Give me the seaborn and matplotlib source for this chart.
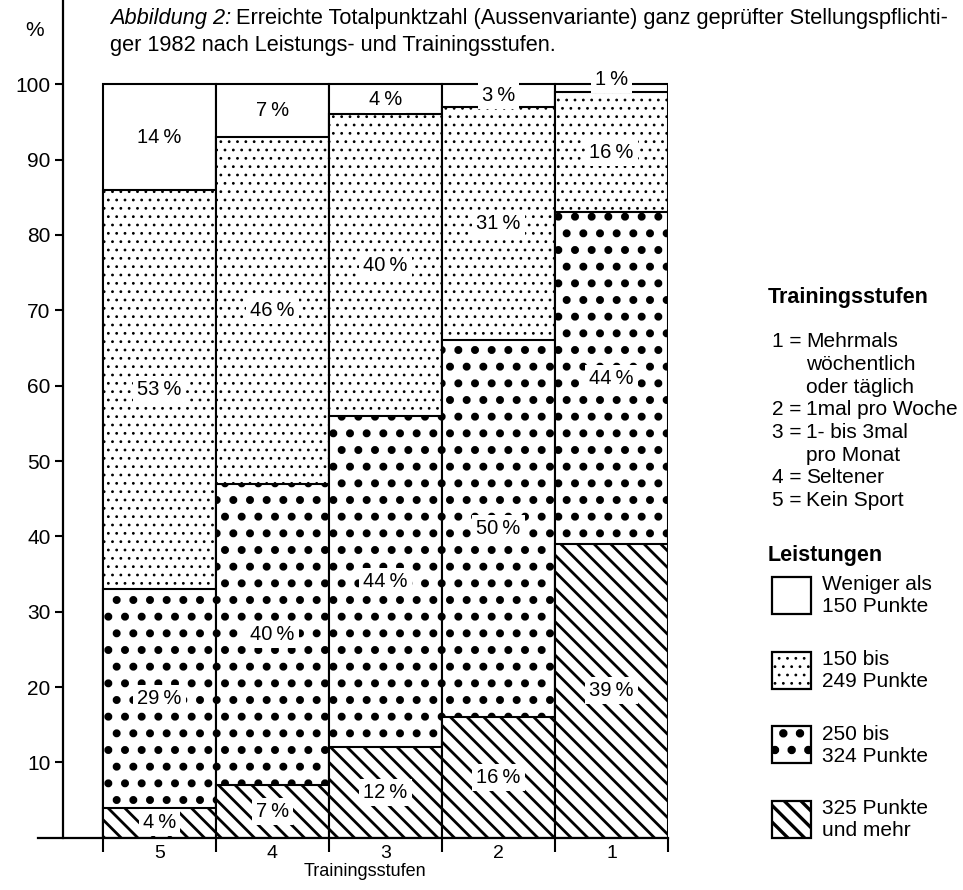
# stacked bar chart: Totalpunktzahl nach Leistungs- und Trainingsstufen

import matplotlib
matplotlib.use('Agg')
import matplotlib.pyplot as plt
import matplotlib.patches as mpatches
import seaborn as sns
import pandas as pd
import numpy as np

# values (percent of each training level)
stufen = ['5', '4', '3', '2', '1']
p_325_plus = [4, 7, 12, 16, 39]
p_250_324 = [29, 40, 44, 50, 44]
p_150_249 = [53, 46, 40, 31, 16]
p_unter_150 = [14, 7, 4, 3, 1]

leistungen = ['Weniger als\n150 Punkte', '150 bis\n249 Punkte',
              '250 bis\n324 Punkte', '325 Punkte\nund mehr']
stufen_text = [('1', ['Mehrmals', 'wöchentlich', 'oder täglich']),
               ('2', ['1mal pro Woche']),
               ('3', ['1- bis 3mal', 'pro Monat']),
               ('4', ['Seltener']),
               ('5', ['Kein Sport'])]

W, H = 963, 890

sns.set_style('white')
plt.rcParams['font.family'] = ['Liberation Sans', 'DejaVu Sans']
plt.rcParams['text.color'] = 'black'
plt.rcParams['axes.labelcolor'] = 'black'
plt.rcParams['xtick.color'] = 'black'
plt.rcParams['ytick.color'] = 'black'

# build table with cumulative tops for the layered bars
df = pd.DataFrame({'Stufe': stufen, 'p325': p_325_plus, 'p250': p_250_324,
                   'p150': p_150_249, 'p0': p_unter_150})
segs = ['p325', 'p250', 'p150', 'p0']
cum = df[segs].cumsum(axis=1)
for c in segs:
    df['top_' + c] = cum[c]

hatches = {'p325': '\\\\', 'p250': '.', 'p150': '..', 'p0': ''}
hatch_lw = {'p325': 2.0, 'p250': 3.3, 'p150': 0.8, 'p0': 1.0}


def px(x, y):
    # pixel position (from top-left) to figure fraction
    return x / W, 1 - y / H


fig = plt.figure(figsize=(W / 100, H / 100), dpi=100)
ax = fig.add_axes([38 / W, 1 - 837.7 / H, (668 - 38) / W, 837.7 / H])

# draw from the top layer down so lower layers cover the upper bars
for c in segs[::-1]:
    with plt.rc_context({'hatch.linewidth': hatch_lw[c]}):
        n0 = len(ax.patches)
        sns.barplot(data=df, x='Stufe', y='top_' + c, width=1, color='white',
                    saturation=1, edgecolor='black', linewidth=1.5,
                    hatch=hatches[c], errorbar=None, ax=ax)
        for p in ax.patches[n0:]:
            if hasattr(p, 'set_hatch_linewidth'):
                p.set_hatch_linewidth(hatch_lw[c])

# percent labels
for i, row in df.iterrows():
    base = 0
    for c in segs:
        v = row[c]
        y = base + v / 2
        if v < 2:
            y = base + v + 0.7  # the 1 % label sits on the top line
        ax.text(i, y, f'{v}\u2009%', ha='center', va='center', fontsize=14.5,
                bbox=dict(boxstyle='square,pad=0.2', fc='white', ec='none'))
        base += v

ax.set_xlim(-1.075, 4.5)
ax.set_ylim(0, 837.7 / 7.534)
ax.set_yticks(range(10, 101, 10))
ax.tick_params(axis='y', direction='out', length=6, width=1.5, labelsize=15,
               pad=3, left=True)
ax.set_xticks(range(5))
ax.set_xticklabels(stufen)
ax.set_xticks(np.arange(-0.5, 5, 1), minor=True)
ax.tick_params(axis='x', which='major', length=0, labelsize=14, pad=5)
ax.tick_params(axis='x', which='minor', length=10, width=1.5, direction='out',
               bottom=True)
ax.set_xlabel('Trainingsstufen', fontsize=13)
ax.xaxis.set_label_coords((365 - 38) / (668 - 38), -25 / 837.7)
ax.set_ylabel('')

for s in ['top', 'right']:
    ax.spines[s].set_visible(False)
ax.spines['left'].set_position(('data', -0.854))
for s in ['left', 'bottom']:
    ax.spines[s].set_linewidth(1.6)
    ax.spines[s].set_color('black')

fig.text(*px(35, 30), '%', ha='center', va='center', fontsize=15)

# title, italic lead-in followed by the roman text
t1 = fig.text(*px(110, 24), 'Abbildung 2:', style='italic', fontsize=15.7,
              va='baseline')
r = fig.canvas.get_renderer()
x1 = t1.get_window_extent(renderer=r).x1
fig.text((x1 + 5) / W, 1 - 24 / H,
         'Erreichte Totalpunktzahl (Aussenvariante) ganz geprüfter Stellungspflichti-',
         fontsize=15.7, va='baseline')
fig.text(*px(110, 51), 'ger 1982 nach Leistungs- und Trainingsstufen.',
         fontsize=15.7, va='baseline')

# legend: Trainingsstufen
fig.text(*px(768, 297), 'Trainingsstufen', fontsize=15.5, weight='bold', va='center')
y = 342
for num, lines in stufen_text:
    fig.text(*px(772, y), f'{num} =', fontsize=15, va='center')
    for ln in lines:
        fig.text(*px(806, y), ln, fontsize=15, va='center')
        y += 22.6

# legend: Leistungen
fig.text(*px(768, 555), 'Leistungen', fontsize=15.5, weight='bold', va='center')
box_hatch = ['', '..', '.', '\\\\']
box_lw = [1.0, 0.8, 3.6, 2.4]
for k, (lab, hh, lw) in enumerate(zip(leistungen, box_hatch, box_lw)):
    top = 577 + k * 74.5
    with plt.rc_context({'hatch.linewidth': lw}):
        rect = mpatches.Rectangle(px(772, top + 37), 39 / W, 37 / H,
                                  transform=fig.transFigure, fc='white',
                                  ec='black', lw=1.6, hatch=hh)
    if hasattr(rect, 'set_hatch_linewidth'):
        rect.set_hatch_linewidth(lw)
    fig.add_artist(rect)
    fig.text(*px(822, top + 19), lab, fontsize=15, va='center',
             linespacing=1.2)

fig.savefig('out.png', dpi=100)
